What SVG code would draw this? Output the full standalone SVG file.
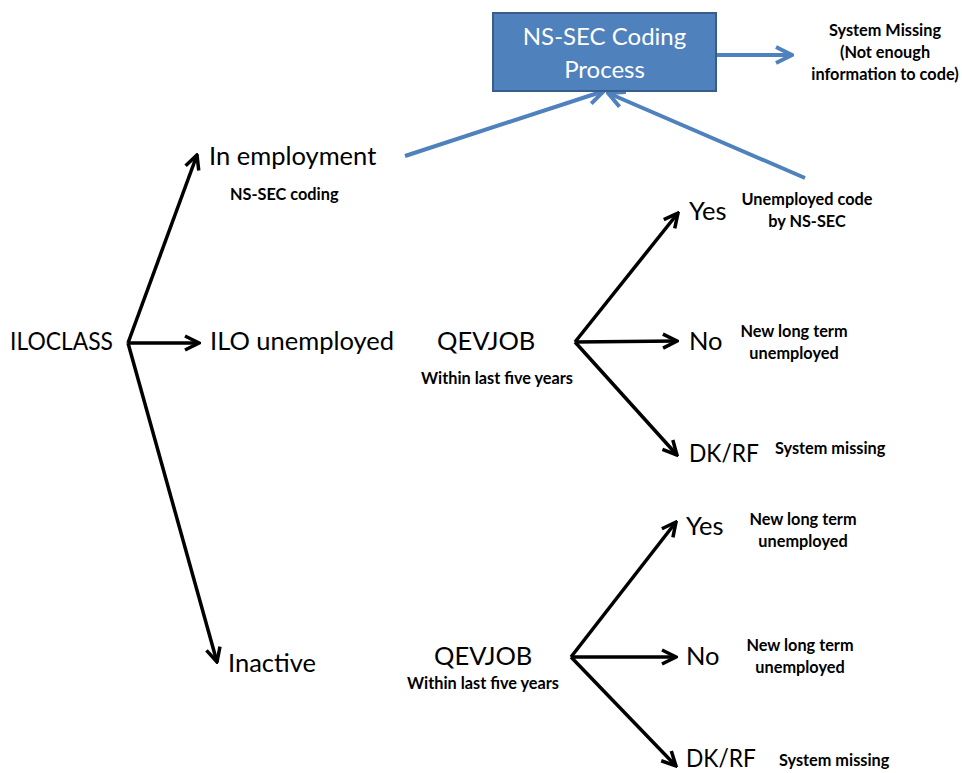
<svg xmlns="http://www.w3.org/2000/svg" width="962" height="773" viewBox="0 0 962 773">
<style>
.big{font-family:Lato,"Open Sans","Liberation Sans",sans-serif;font-size:25.5px;fill:#000}
.small{font-family:Lato,"Open Sans","Liberation Sans",sans-serif;font-size:16.3px;font-weight:bold;fill:#000}
.box{font-family:Lato,"Open Sans","Liberation Sans",sans-serif;font-size:24px;fill:#fff}
.blk{stroke:#000;stroke-width:3.5;fill:none}
.blu{stroke:#4f81bd;stroke-width:4;fill:none}
</style>
<defs>
<marker id="ah" viewBox="0 0 10 10" refX="9" refY="5" markerWidth="5" markerHeight="5" orient="auto" markerUnits="strokeWidth">
<path d="M1,1 L9,5 L1,9" fill="none" stroke="#000" stroke-width="2"/>
</marker>
<marker id="ahb" viewBox="0 0 10 10" refX="9" refY="5" markerWidth="5" markerHeight="5" orient="auto" markerUnits="strokeWidth">
<path d="M1,1 L9,5 L1,9" fill="none" stroke="#4f81bd" stroke-width="2"/>
</marker>
</defs>
<g id="connectors">
<line class="blk" x1="128" y1="343" x2="197" y2="155" marker-end="url(#ah)"/>
<line class="blk" x1="128" y1="343" x2="199" y2="343" marker-end="url(#ah)"/>
<line class="blk" x1="128" y1="343" x2="217" y2="662" marker-end="url(#ah)"/>
<line class="blk" x1="575" y1="342" x2="678" y2="213" marker-end="url(#ah)"/>
<line class="blk" x1="575" y1="342" x2="677" y2="341" marker-end="url(#ah)"/>
<line class="blk" x1="575" y1="342" x2="677" y2="455" marker-end="url(#ah)"/>
<line class="blk" x1="571" y1="657" x2="676" y2="522" marker-end="url(#ah)"/>
<line class="blk" x1="571" y1="657" x2="676" y2="657" marker-end="url(#ah)"/>
<line class="blk" x1="571" y1="657" x2="676" y2="766" marker-end="url(#ah)"/>
<line class="blu" x1="716" y1="55" x2="792" y2="55" marker-end="url(#ahb)"/>
<line class="blu" x1="405" y1="156" x2="604" y2="91" marker-end="url(#ahb)"/>
<line class="blu" x1="805" y1="178" x2="608" y2="93" marker-end="url(#ahb)"/>
</g>
<g id="nssec">
<rect x="493" y="13" width="223" height="78" fill="#4f81bd" stroke="#385d8a" stroke-width="2"/>
<text class="box" x="604.5" y="45" text-anchor="middle">NS-SEC Coding</text>
<text class="box" x="604.5" y="78" text-anchor="middle">Process</text>
</g>
<g id="sysmissing-top">
<text class="small" x="885" y="36" text-anchor="middle">System Missing</text>
<text class="small" x="885" y="58" text-anchor="middle">(Not enough</text>
<text class="small" x="885" y="80" text-anchor="middle">information to code)</text>
</g>
<g id="iloclass"><text class="big" x="10" y="350" textLength="103" lengthAdjust="spacingAndGlyphs">ILOCLASS</text></g>
<g id="inemployment">
<text class="big" x="209" y="165">In employment</text>
<text class="small" x="230" y="200">NS-SEC coding</text>
</g>
<g id="ilounemployed"><text class="big" x="210" y="350">ILO unemployed</text></g>
<g id="inactive"><text class="big" x="228" y="672">Inactive</text></g>
<g id="qevjob1">
<text class="big" x="437" y="350">QEVJOB</text>
<text class="small" x="421" y="384">Within last five years</text>
</g>
<g id="yes1">
<text class="big" x="689" y="220">Yes</text>
<text class="small" x="807" y="205" text-anchor="middle">Unemployed code</text>
<text class="small" x="807" y="227" text-anchor="middle">by NS-SEC</text>
</g>
<g id="no1">
<text class="big" x="689" y="350">No</text>
<text class="small" x="794" y="337" text-anchor="middle">New long term</text>
<text class="small" x="794" y="359" text-anchor="middle">unemployed</text>
</g>
<g id="dkrf1">
<text class="big" x="689" y="462" textLength="70" lengthAdjust="spacingAndGlyphs">DK/RF</text>
<text class="small" x="775" y="454">System missing</text>
</g>
<g id="qevjob2">
<text class="big" x="434" y="665">QEVJOB</text>
<text class="small" x="407" y="689">Within last five years</text>
</g>
<g id="yes2">
<text class="big" x="686" y="535">Yes</text>
<text class="small" x="803" y="525" text-anchor="middle">New long term</text>
<text class="small" x="803" y="547" text-anchor="middle">unemployed</text>
</g>
<g id="no2">
<text class="big" x="686" y="665">No</text>
<text class="small" x="800" y="651" text-anchor="middle">New long term</text>
<text class="small" x="800" y="673" text-anchor="middle">unemployed</text>
</g>
<g id="dkrf2">
<text class="big" x="686" y="767" textLength="70" lengthAdjust="spacingAndGlyphs">DK/RF</text>
<text class="small" x="779" y="766">System missing</text>
</g>
</svg>
